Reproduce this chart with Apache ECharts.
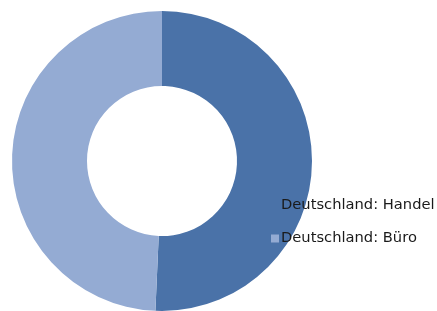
<!DOCTYPE html>
<html>
<head>
<meta charset="utf-8">
<script src="https://cdn.jsdelivr.net/npm/echarts@6/dist/echarts.min.js"></script>
<style>
    html,body{margin:0;padding:0;background:#fff;}
    #main{width:437px;height:311px;}
</style>
</head>
<body>
<div id="main"></div>
<script>
    // Kategorien und Anteile (geschätzt)
    const categories = ['Deutschland: Handel', 'Deutschland: Büro'];
    const values = [50.7, 49.3];
    const colors = ['#4a72a8', '#94abd3'];

    const chart = echarts.init(document.getElementById('main'));

    const option = {
        color: colors,
        animation: false,
        legend: {
            orient: 'vertical',
            left: 266,
            top: 193,
            itemWidth: 8,
            itemHeight: 8,
            itemGap: 18,
            icon: 'rect',
            textStyle: {
                fontFamily: 'DejaVu Sans',
                fontSize: 14.7,
                color: '#1a1a1a',
                padding: [0, 0, 0, -3]
            },
            data: categories
        },
        series: [
            {
                type: 'pie',
                center: [162, 161],
                radius: [75, 150],
                startAngle: 90,
                clockwise: true,
                label: {show: false},
                labelLine: {show: false},
                emphasis: {disabled: true},
                z: 3,
                data: categories.map((name, i) => ({name: name, value: values[i]}))
            }
        ]
    };

    chart.setOption(option);
</script>
</body>
</html>
